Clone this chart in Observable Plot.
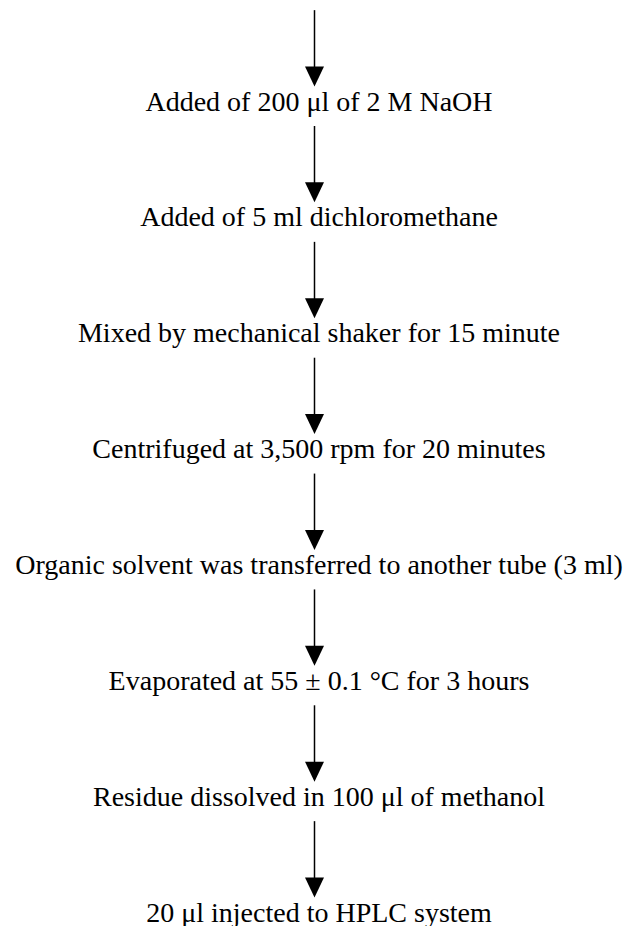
<!DOCTYPE html>
<html>
<head>
<meta charset="utf-8">
<script src="https://cdn.jsdelivr.net/npm/d3@7"></script>
<script src="https://cdn.jsdelivr.net/npm/@observablehq/plot@0.6"></script>
<style>
  html, body { margin: 0; padding: 0; background: #fff; }
  #chart svg text { font-family: "Liberation Serif", "Times New Roman", serif !important; }
</style>
</head>
<body>
<div id="chart"></div>
<script>
// Flowchart steps (top to bottom)
const steps = [
  "Added of 200 \u03BCl of 2 M NaOH",
  "Added of 5 ml dichloromethane",
  "Mixed by mechanical shaker for 15 minute",
  "Centrifuged at 3,500 rpm for 20 minutes",
  "Organic solvent was transferred to another tube (3 ml)",
  "Evaporated at 55 \u00B1 0.1 \u00B0C for 3 hours",
  "Residue dissolved in 100 \u03BCl of methanol",
  "20 \u03BCl injected to HPLC system"
];
const stepIndex = steps.map((d, i) => i);

// downward isosceles triangle arrowhead
const arrowHead = {
  draw(context, size) {
    const r = Math.sqrt(size / Math.PI);
    context.moveTo(-0.95 * r, -r);
    context.lineTo(0.95 * r, -r);
    context.lineTo(0, r);
    context.closePath();
  }
};

const chart = Plot.plot({
  width: 629,
  height: 926,
  margin: 0,
  style: { background: "#fff" },
  x: { domain: [-1, 1], axis: null },
  y: { domain: [0, steps.length - 1], range: [110, 921], axis: null },
  marks: [
    Plot.ruleX(stepIndex, {
      x: () => 0, dx: -0.5,
      y1: (i) => i - 1, y2: (i) => i,
      insetTop: 16, insetBottom: 32,
      stroke: "black", strokeWidth: 1.5
    }),
    Plot.dot(stepIndex, {
      x: () => 0, dx: -0.5,
      y: (i) => i, dy: -34,
      symbol: arrowHead, r: 10,
      fill: "black", stroke: "none"
    }),
    Plot.text(steps, {
      x: () => 0, dx: 4,
      y: (d, i) => i,
      text: (d) => d,
      lineAnchor: "bottom",
      textAnchor: "middle",
      fontSize: 28,
      fontFamily: "Liberation Serif",
      fill: "black"
    })
  ]
});
document.getElementById("chart").appendChild(chart);
</script>
</body>
</html>
